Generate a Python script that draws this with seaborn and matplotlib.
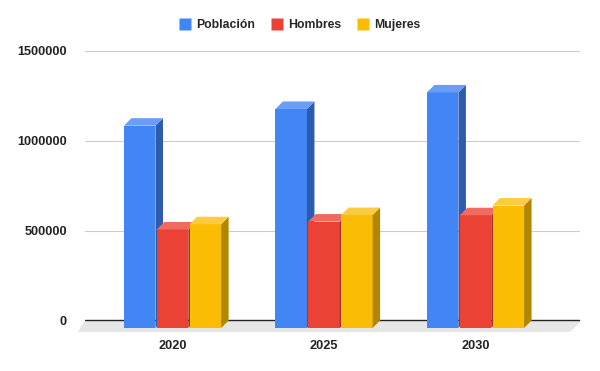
import matplotlib
matplotlib.use("Agg")
import matplotlib.pyplot as plt
from matplotlib.colors import to_hex
from matplotlib.lines import Line2D
from matplotlib.patches import Polygon
import pandas as pd
import seaborn as sns

years = ["2020", "2025", "2030"]
series = ["Población", "Hombres", "Mujeres"]
poblacion = [1125000, 1218000, 1310000]
hombres = [548000, 592000, 627000]
mujeres = [577000, 628000, 681000]
yticks = [0, 500000, 1000000, 1500000]

front = ["#4285f4", "#ea4335", "#fbbc04"]
side = ["#2d5bb0", "#a8302a", "#b38600"]
top = ["#6a9df5", "#ef6b60", "#fccc40"]

df = pd.DataFrame({
    "year": years * 3,
    "serie": [s for s in series for _ in years],
    "valor": poblacion + hombres + mujeres,
})

sns.set_style("white")
plt.rcParams["font.family"] = ["Liberation Sans", "DejaVu Sans"]

fig = plt.figure(figsize=(6, 3.71), dpi=100)
ax = fig.add_axes([85 / 600, 35 / 371, 495 / 600, 291 / 371])

sns.barplot(data=df, x="year", y="valor", hue="serie", hue_order=series,
            palette=front, saturation=1, width=0.65, gap=0.04, legend=False,
            ax=ax, edgecolor="none", linewidth=0)

# 3d depth: ~7.5 px right and up
dx = 7.5 / 151.5
dy = 7.5 / 179.8 * 1e6

for p in list(ax.patches):
    k = front.index(to_hex(p.get_facecolor()))
    x, w, v = p.get_x(), p.get_width(), p.get_height()
    p.set_y(-dy)
    p.set_zorder(3 + k)
    ax.add_patch(Polygon([(x + w, -dy), (x + w + dx, 0), (x + w + dx, v),
                          (x + w, v - dy)], closed=True, facecolor=side[k],
                         edgecolor="none", zorder=3 + k))
    ax.add_patch(Polygon([(x, v - dy), (x + dx, v), (x + w + dx, v),
                          (x + w, v - dy)], closed=True, facecolor=top[k],
                         edgecolor="none", zorder=3 + k))

x0, x1 = -0.578, 2.69
ax.set_xlim(x0, x1)
ax.set_ylim(-86200, 1532000)

# floor
fd = 11.5 / 179.8 * 1e6
ax.add_patch(Polygon([(x0, 0), (x1 + 2 / 151.5, 0), (x1 - 10 / 151.5, -fd),
                      (x0 - 7 / 151.5, -fd)], closed=True, facecolor="#e6e6e6",
                     edgecolor="none", zorder=1, clip_on=False))
for t in yticks[1:]:
    ax.axhline(t, color="#cccccc", lw=0.8, zorder=1.5)
ax.axhline(0, color="#222222", lw=1, zorder=1.6)

ax.set_yticks(yticks)
ax.set_yticklabels([str(t) for t in yticks], fontweight="bold", fontsize=9.2,
                   color="#222222")
ax.set_xticks(range(len(years)))
ax.set_xticklabels(years, fontweight="bold", fontsize=9.2, color="#222222")
ax.tick_params(axis="y", length=0, pad=13)
ax.tick_params(axis="x", length=0, pad=3)
ax.set_xlabel("")
ax.set_ylabel("")
sns.despine(ax=ax, left=True, bottom=True)

handles = [Line2D([], [], marker="s", linestyle="none", markersize=8,
                  markerfacecolor=c, markeredgecolor="none") for c in front]
fig.legend(handles, series, loc="center", bbox_to_anchor=(0.5, 0.933), ncol=3,
           frameon=False, handlelength=0.9, handletextpad=0.5,
           columnspacing=1.3, prop={"weight": "bold", "size": 8.8})

fig.savefig("out.png", dpi=100)
